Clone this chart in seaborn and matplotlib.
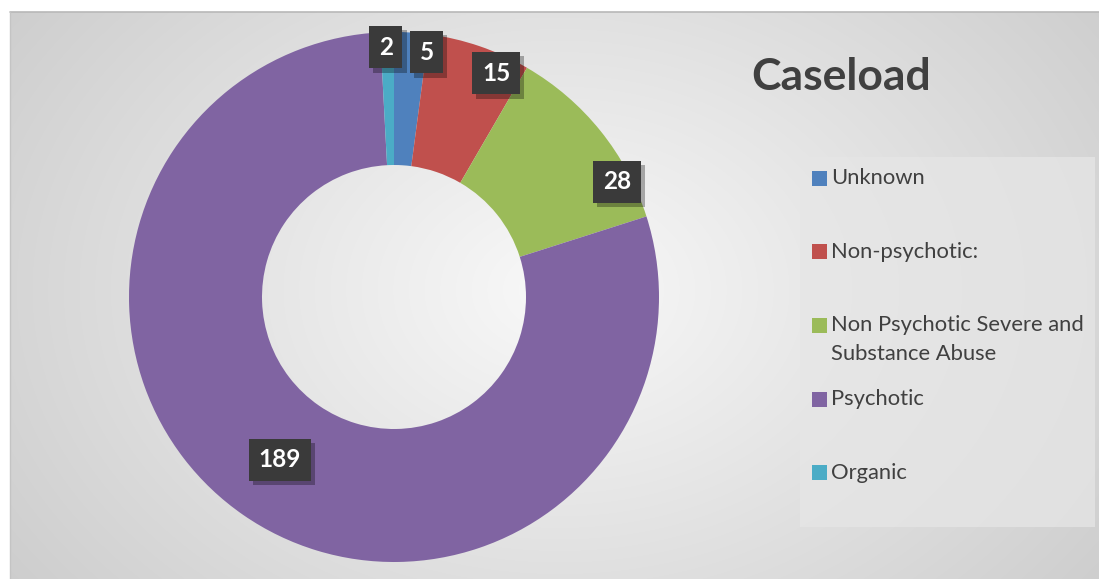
import math
import numpy as np
import matplotlib
matplotlib.use("Agg")
import matplotlib.pyplot as plt
import matplotlib.patheffects as pe
from matplotlib.patches import Rectangle
import seaborn as sns

# ---- data ----
categories = ["Unknown", "Non-psychotic:", "Non Psychotic Severe and\nSubstance Abuse", "Psychotic", "Organic"]
values = [5, 15, 28, 189, 2]
colors = ["#4F81BD", "#C0504D", "#9BBB59", "#8064A2", "#4BACC6"]
title = "Caseload"

# ---- label layout (angular nudge in degrees, radius fraction) ----
label_nudge = [3.8, 5.7, 11.5, 0.4, -0.4]
label_rfrac = [0.932, 0.928, 0.947, 0.751, 0.943]

sns.set_theme(style="white")
plt.rcParams["font.family"] = ["Lato", "DejaVu Sans"]

W, H = 1099, 579
fig = plt.figure(figsize=(W / 100, H / 100), dpi=100)
fig.patch.set_facecolor("white")
ax = fig.add_axes([0, 0, 1, 1])

# background radial gradient panel
x0, ytop = 10, 12
xs = np.arange(x0, W) + 0.5
ys = np.arange(ytop, H) + 0.5
XX, YY = np.meshgrid(xs, ys)
d = np.sqrt(((XX - 560) / 680.0) ** 2 + ((YY - 290) / 500.0) ** 2)
val = np.clip(0.975 - 0.17 * d, 0, 1)
img = np.dstack([val, val, val])
ax.imshow(img, extent=[x0, W, 0, H - ytop], origin="upper", zorder=0, interpolation="bilinear")
ax.plot([x0, W], [H - ytop, H - ytop], color="#b8b8b8", lw=1.2, zorder=1)
ax.plot([x0, x0], [0, H - ytop], color="#c4c4c4", lw=1.0, zorder=1)

# donut
cx, cy = 394, H - 297
R = 265
pal = sns.color_palette(colors)
wedges, _ = ax.pie(values, colors=pal, startangle=90, counterclock=False,
                   radius=R, center=(cx, cy), frame=True,
                   wedgeprops=dict(width=133, linewidth=0))
for w in wedges:
    w.set_zorder(2)

# data labels
total = float(sum(values))
cum = 0.0
for i, v in enumerate(values):
    mid = (cum + v / 2.0) / total * 360.0
    cum += v
    theta = math.radians(90 - (mid + label_nudge[i]))
    r = R * label_rfrac[i]
    tx = cx + r * math.cos(theta)
    ty = cy + r * math.sin(theta)
    t = ax.text(tx, ty, str(v), ha="center", va="center", color="white",
                fontsize=17.5, fontweight="bold", zorder=5,
                bbox=dict(boxstyle="square,pad=0.4", fc="#3a3a3a", ec="none"))
    t.get_bbox_patch().set_path_effects([
        pe.withSimplePatchShadow(offset=(3, -3), shadow_rgbFace="black", alpha=0.3)])

# title
ax.text(841, H - 77, title, ha="center", va="center", fontsize=32,
        fontweight="bold", color="#404040", zorder=5)

# legend panel
ax.add_patch(Rectangle((800, H - 527), 295, 370, fc="#e6e6e6", ec="none",
                       alpha=0.75, zorder=3))
for i, lab in enumerate(categories):
    yc = H - (178 + 73.7 * i)
    ax.add_patch(Rectangle((812, yc - 7.5), 15, 15, fc=colors[i], ec="none", zorder=4))
    for k, line in enumerate(lab.split("\n")):
        ax.text(831, yc - 29 * k, line, ha="left", va="center", fontsize=15.8,
                color="#404040", zorder=5)

ax.set_xlim(0, W)
ax.set_ylim(0, H)
ax.set_aspect("equal")
ax.axis("off")

fig.savefig("out.png", dpi=100)
